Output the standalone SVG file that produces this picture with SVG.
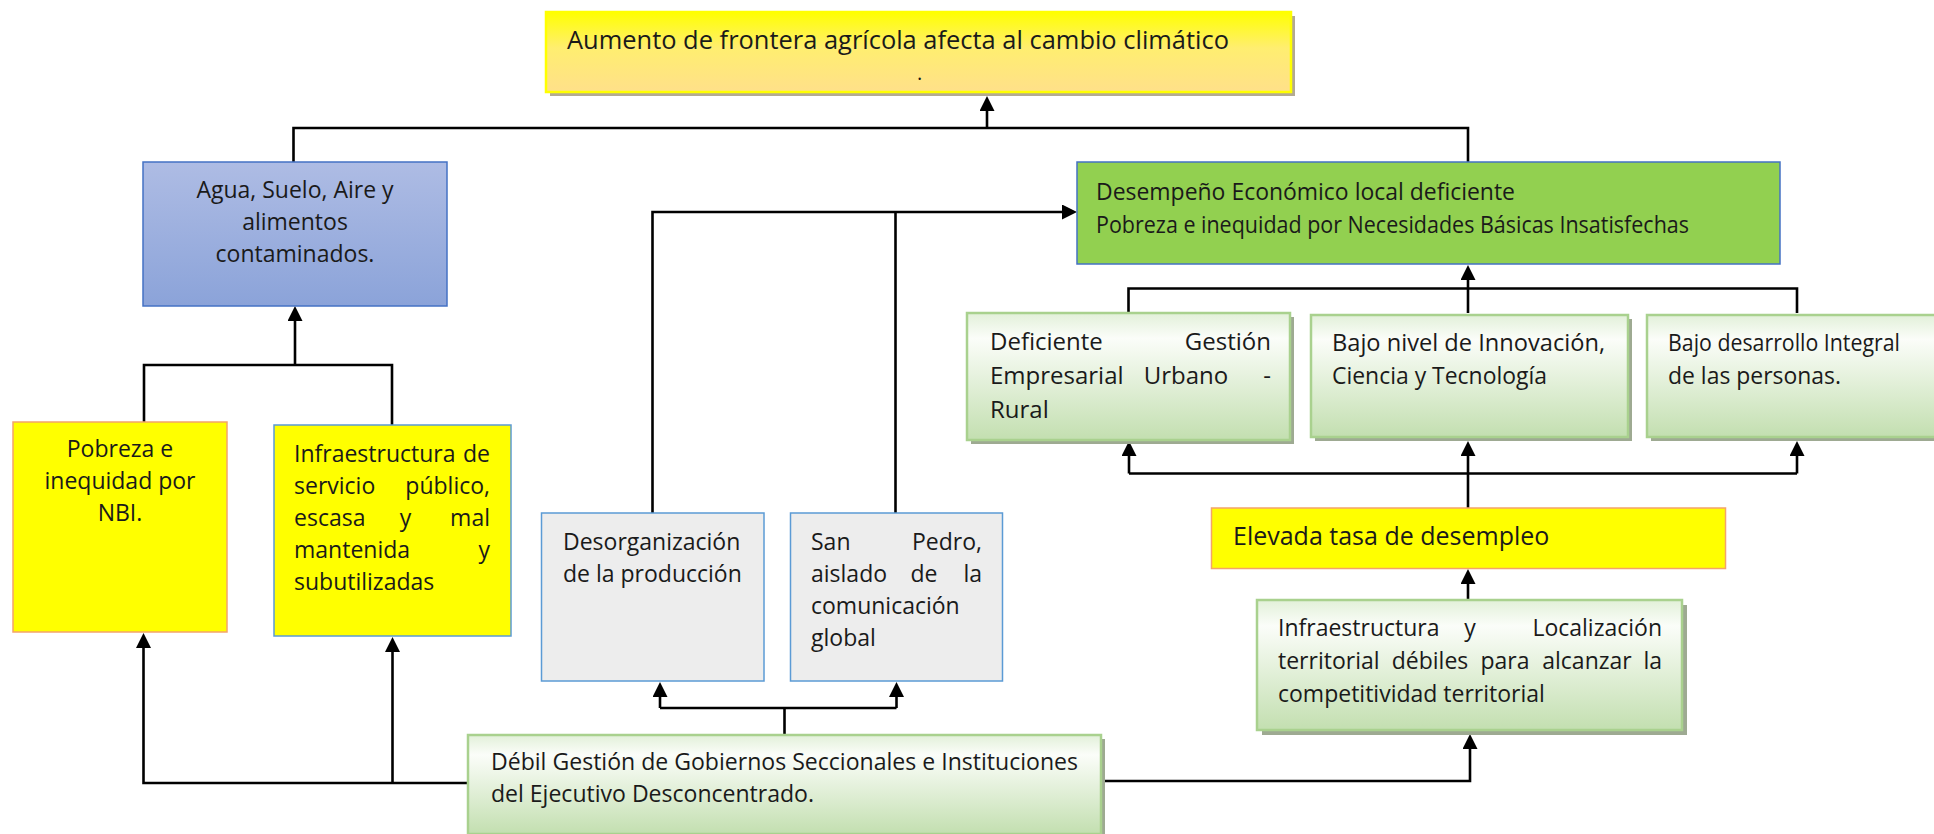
<svg xmlns="http://www.w3.org/2000/svg" width="1934" height="834" viewBox="0 0 1934 834">
<style>
.t{font-family:"Open Sans","Liberation Sans",sans-serif;font-size:23px;fill:#1a1a1a}
.c{font-family:"Open Sans","Liberation Sans",sans-serif;font-size:24px;fill:#1a1a1a}
.e{text-anchor:end}
.m{text-anchor:middle}
.ln{fill:none;stroke:#000;stroke-width:2.6}
.ar{marker-end:url(#ah)}
.gbox{fill:url(#gg);stroke:#A9D18E;stroke-width:2.5}
.gsh{fill:#9EAA92}
</style>
<defs>
<linearGradient id="gg" x1="0" y1="0" x2="0" y2="1">
<stop offset="0" stop-color="#E2F0D9"/>
<stop offset="0.2" stop-color="#FBFDF9"/>
<stop offset="1" stop-color="#C3DFB0"/>
</linearGradient>
<linearGradient id="gy" x1="0" y1="0" x2="0" y2="1">
<stop offset="0" stop-color="#FFFF00"/>
<stop offset="0.45" stop-color="#FFEE70"/>
<stop offset="1" stop-color="#FFE08A"/>
</linearGradient>
<linearGradient id="gb" x1="0" y1="0" x2="0" y2="1">
<stop offset="0" stop-color="#AEBCE4"/>
<stop offset="1" stop-color="#8BA3D9"/>
</linearGradient>
<marker id="ah" viewBox="0 0 10 10" refX="7" refY="5" markerWidth="15" markerHeight="15" markerUnits="userSpaceOnUse" orient="auto">
<path d="M0,0 L10,5 L0,10 z" fill="#000"/>
</marker>
</defs>
<rect width="1934" height="834" fill="#fff"/>

<g id="connectors">
<path class="ln" d="M293.5,162 V128 H1468 V162"/>
<path class="ln ar" d="M987,128 V100.5"/>
<path class="ln" d="M144,422 V365 H392 V425"/>
<path class="ln ar" d="M295,365 V310.5"/>
<path class="ln ar" d="M468,783 H143.5 V637.5"/>
<path class="ln ar" d="M392.5,783 V641.5"/>
<path class="ln" d="M784.5,735 V708"/>
<path class="ln" d="M660,708 H896.5"/>
<path class="ln ar" d="M660,708 V686.5"/>
<path class="ln ar" d="M896.5,708 V686.5"/>
<path class="ln ar" d="M652.5,513 V212 H1072.5"/>
<path class="ln" d="M895.5,513 V212"/>
<path class="ln" d="M1128.5,313 V288.5 H1797 V313"/>
<path class="ln" d="M1468,313 V288.5"/>
<path class="ln ar" d="M1468,288.5 V269.5"/>
<path class="ln" d="M1129,473.5 H1797"/>
<path class="ln ar" d="M1129,473.5 V445.5"/>
<path class="ln ar" d="M1468,508 V445.5"/>
<path class="ln ar" d="M1797,473.5 V445.5"/>
<path class="ln ar" d="M1468,600 V573.5"/>
<path class="ln ar" d="M1101,781 H1470 V738.5"/>
</g>

<g id="n-top">
<rect x="550" y="16" width="745" height="80" fill="#B3AA92"/>
<rect x="546" y="12" width="745" height="80" fill="url(#gy)" stroke="#FFFF00" stroke-width="2.5"/>
<text class="t" x="567" y="49" style="font-size:26px" textLength="662" lengthAdjust="spacingAndGlyphs">Aumento de frontera agrícola afecta al cambio climático</text>
<text class="t" x="917" y="80" style="font-size:20px">.</text>
</g>

<g id="n-agua">
<rect x="143" y="162" width="304" height="144" fill="url(#gb)" stroke="#4472C4" stroke-width="1.5"/>
<text class="t m" x="295" y="198">Agua, Suelo, Aire y</text>
<text class="t m" x="295" y="230">alimentos</text>
<text class="t m" x="295" y="262">contaminados.</text>
</g>

<g id="n-desempeno">
<rect x="1077" y="162" width="703" height="102" fill="#92D050" stroke="#4472C4" stroke-width="1.5"/>
<text class="c" x="1096" y="200" textLength="419" lengthAdjust="spacingAndGlyphs">Desempeño Económico local deficiente</text>
<text class="c" x="1096" y="233" textLength="593" lengthAdjust="spacingAndGlyphs">Pobreza e inequidad por Necesidades Básicas Insatisfechas</text>
</g>

<g id="n-gestion">
<rect class="gsh" x="971" y="317" width="323" height="127"/>
<rect class="gbox" x="967" y="313" width="323" height="127"/>
<text class="c" x="990" y="350">Deficiente</text>
<text class="c e" x="1271" y="350">Gestión</text>
<text class="c" x="990" y="384">Empresarial</text>
<text class="c m" x="1186" y="384">Urbano</text>
<text class="c e" x="1271" y="384">-</text>
<text class="c" x="990" y="418">Rural</text>
</g>

<g id="n-innovacion">
<rect class="gsh" x="1315" y="319" width="317" height="122"/>
<rect class="gbox" x="1311" y="315" width="317" height="122"/>
<text class="c" x="1332" y="351" textLength="273" lengthAdjust="spacingAndGlyphs">Bajo nivel de Innovación,</text>
<text class="c" x="1332" y="384" textLength="215" lengthAdjust="spacingAndGlyphs">Ciencia y Tecnología</text>
</g>

<g id="n-desarrollo">
<rect class="gsh" x="1651" y="319" width="320" height="122"/>
<rect class="gbox" x="1647" y="315" width="320" height="122"/>
<text class="c" x="1668" y="351" textLength="232" lengthAdjust="spacingAndGlyphs">Bajo desarrollo Integral</text>
<text class="c" x="1668" y="384" textLength="173" lengthAdjust="spacingAndGlyphs">de las personas.</text>
</g>

<g id="n-pobreza">
<rect x="13" y="422" width="214" height="210" fill="#FFFF00" stroke="#F4A46A" stroke-width="1.5"/>
<text class="t m" x="120" y="457">Pobreza e</text>
<text class="t m" x="120" y="489">inequidad por</text>
<text class="t m" x="120" y="521">NBI.</text>
</g>

<g id="n-infra">
<rect x="274" y="425" width="237" height="211" fill="#FFFF00" stroke="#5B9BD5" stroke-width="1.5"/>
<text class="t" x="294" y="462">Infraestructura</text>
<text class="t e" x="490" y="462">de</text>
<text class="t" x="294" y="494">servicio</text>
<text class="t e" x="490" y="494">público,</text>
<text class="t" x="294" y="526">escasa</text>
<text class="t m" x="405.5" y="526">y</text>
<text class="t e" x="490" y="526">mal</text>
<text class="t" x="294" y="558">mantenida</text>
<text class="t e" x="490" y="558">y</text>
<text class="t" x="294" y="590">subutilizadas</text>
</g>

<g id="n-desorg">
<rect x="541.5" y="513" width="222.5" height="168" fill="#EDEDED" stroke="#5B9BD5" stroke-width="1.5"/>
<text class="t" x="563" y="550">Desorganización</text>
<text class="t" x="563" y="582">de la producción</text>
</g>

<g id="n-sanpedro">
<rect x="790.5" y="513" width="212" height="168" fill="#EDEDED" stroke="#5B9BD5" stroke-width="1.5"/>
<text class="t" x="811" y="550">San</text>
<text class="t e" x="982" y="550">Pedro,</text>
<text class="t" x="811" y="582">aislado</text>
<text class="t m" x="924" y="582">de</text>
<text class="t e" x="982" y="582">la</text>
<text class="t" x="811" y="614">comunicación</text>
<text class="t" x="811" y="646">global</text>
</g>

<g id="n-desempleo">
<rect x="1211.5" y="508" width="514" height="60.5" fill="#FFFF00" stroke="#F4A46A" stroke-width="1.5"/>
<text class="t" x="1233" y="545" style="font-size:25px">Elevada tasa de desempleo</text>
</g>

<g id="n-localizacion">
<rect class="gsh" x="1262" y="605" width="425" height="130"/>
<rect class="gbox" x="1257" y="600" width="425" height="130"/>
<text class="t" x="1278" y="636">Infraestructura</text>
<text class="t m" x="1470" y="636">y</text>
<text class="t e" x="1662" y="636">Localización</text>
<text class="t" x="1278" y="669">territorial</text>
<text class="t m" x="1430" y="669">débiles</text>
<text class="t m" x="1505" y="669">para</text>
<text class="t m" x="1587" y="669">alcanzar</text>
<text class="t e" x="1662" y="669">la</text>
<text class="t" x="1278" y="702">competitividad territorial</text>
</g>

<g id="n-debil">
<rect class="gsh" x="472" y="739" width="633" height="99"/>
<rect class="gbox" x="468" y="735" width="633" height="99"/>
<text class="c" x="491" y="770" textLength="587" lengthAdjust="spacingAndGlyphs">Débil Gestión de Gobiernos Seccionales e Instituciones</text>
<text class="c" x="491" y="802" textLength="323" lengthAdjust="spacingAndGlyphs">del Ejecutivo Desconcentrado.</text>
</g>
</svg>
